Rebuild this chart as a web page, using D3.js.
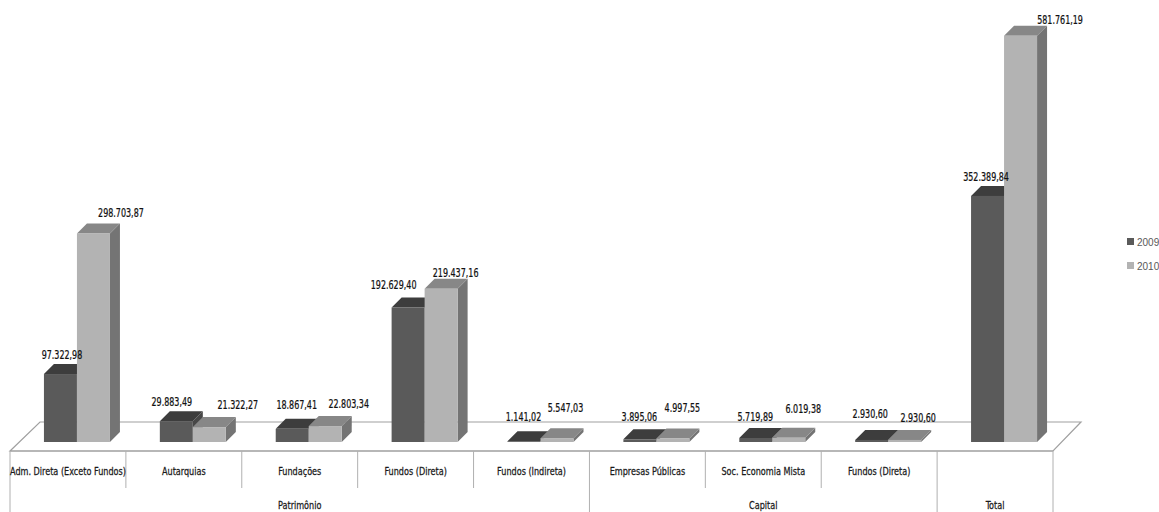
<!DOCTYPE html>
<html>
<head>
<meta charset="utf-8">
<script src="https://cdn.jsdelivr.net/npm/d3@7"></script>
<style>
  html, body { margin: 0; padding: 0; background: #fff; }
  svg { display: block; }
  text { font-family: 'Liberation Sans Narrow', 'DejaVu Sans Condensed', 'Arial Narrow', sans-serif; }
</style>
</head>
<body>
<svg id="chart" width="1159" height="512"></svg>
<script>
// ---------------- DATA ----------------
const categories = [
  "Adm. Direta (Exceto Fundos)", "Autarquias", "Fundações", "Fundos (Direta)", "Fundos (Indireta)",
  "Empresas Públicas", "Soc. Economia Mista", "Fundos (Direta)", "Total"
];
const groups = ["Patrimônio", "Capital", "Total"];
const groupSizes = [5, 3, 1];
const seriesNames = ["2009", "2010"];
const values2009 = [97322.98, 29883.49, 18867.41, 192629.40, 1141.02, 3895.06, 5719.89, 2930.60, 352389.84];
const values2010 = [298703.87, 21322.27, 22803.34, 219437.16, 5547.03, 4997.55, 6019.38, 2930.60, 581761.19];

// label placement tweaks (px, relative to the default label position)
const labelShift2009 = [[2,2],[-4,2],[5,-3],[-14,-1],[0,-3],[0,-1],[0,0],[-1,-5],[-1,2]];
const labelShift2010 = [[11,3],[12,1],[7,1],[-2,7],[-8,-7],[-7,-8],[-2,-6],[-3,1],[23,7]];

// ---------------- LAYOUT ----------------
const svg = d3.select("#chart");
const colors = {
  "2009": { front: "#5a5a5a", top: "#3d3d3d", side: "#474747" },
  "2010": { front: "#b3b3b3", top: "#878787", side: "#747474" }
};
const floor = { front: 451, back: 422, left: 10, right: 1053, dx: 30 };
const barBase = 442;
const barW = 33, depthX = 10, depthY = -10, pairShift = 9;
const condense = 0.74;

const x = d3.scaleBand().domain(d3.range(categories.length)).range([floor.left, floor.right]).padding(0);
const xs = d3.scaleBand().domain(seriesNames).range([0, 2 * barW]).padding(0);
const y = d3.scaleLinear().domain([0, 600000]).range([barBase, 23]);

const ptBR = d3.formatLocale({ decimal: ",", thousands: ".", grouping: [3], currency: ["R$", ""] });
const fmt = ptBR.format(",.2f");

function ctext(g, px, py, str, size, fill, sx) {
  return g.append("text")
    .attr("transform", `translate(${px},${py}) scale(${sx},1)`)
    .attr("text-anchor", "middle").attr("font-size", size).attr("fill", fill)
    .attr("stroke", fill).attr("stroke-width", 0.25).text(str);
}

// floor
const lineCol = "#a0a0a0";
svg.append("path")
  .attr("d", `M${floor.left},${floor.front} L${floor.left + floor.dx},${floor.back} L${floor.right + floor.dx - 2},${floor.back} L${floor.right},${floor.front} Z`)
  .attr("fill", "#ffffff").attr("stroke", lineCol).attr("stroke-width", 1.2);

// table (category axis)
const axisG = svg.append("g");
axisG.append("line").attr("x1", floor.left).attr("x2", floor.right).attr("y1", floor.front).attr("y2", floor.front)
  .attr("stroke", lineCol).attr("stroke-width", 1.2);
let groupStarts = [0];
groupSizes.forEach((s, i) => groupStarts.push(groupStarts[i] + s));
d3.range(categories.length + 1).forEach(i => {
  const xx = i < categories.length ? x(i) : floor.right;
  const isGroupEdge = groupStarts.includes(i);
  axisG.append("line").attr("x1", xx).attr("x2", xx).attr("y1", floor.front).attr("y2", isGroupEdge ? 512 : 488)
    .attr("stroke", "#b0b0b0").attr("stroke-width", 1);
});
categories.forEach((c, i) => {
  if (i === categories.length - 1) return; // the Total column shows only its group label
  ctext(axisG, x(i) + x.bandwidth() / 2, 475, c, 11, "#1a1a1a", 0.82);
});
groups.forEach((g, gi) => {
  const x0 = x(groupStarts[gi]);
  const x1 = groupStarts[gi + 1] < categories.length ? x(groupStarts[gi + 1]) : floor.right;
  ctext(axisG, (x0 + x1) / 2, 509, g, 11, "#1a1a1a", 0.82);
});

// bars
const barsG = svg.append("g");
function drawBar(cx, v, s) {
  const x0 = cx, x1 = cx + barW;
  const yt = y(v), yb = y(0);
  const c = colors[s];
  const g = barsG.append("g");
  g.append("path").attr("d", `M${x1},${yb} L${x1 + depthX},${yb + depthY} L${x1 + depthX},${yt + depthY} L${x1},${yt} Z`).attr("fill", c.side);
  g.append("path").attr("d", `M${x0},${yt} L${x1},${yt} L${x1 + depthX},${yt + depthY} L${x0 + depthX},${yt + depthY} Z`).attr("fill", c.top);
  g.append("rect").attr("x", x0).attr("y", yt).attr("width", barW).attr("height", Math.max(0.8, yb - yt)).attr("fill", c.front);
}
const series = { "2009": values2009, "2010": values2010 };
categories.forEach((c, i) => {
  const base = x(i) + x.bandwidth() / 2 + pairShift - barW;
  seriesNames.forEach(s => drawBar(base + xs(s), series[s][i], s));
});

// value labels
const labG = svg.append("g");
categories.forEach((c, i) => {
  const center = x(i) + x.bandwidth() / 2;
  const sh9 = labelShift2009[i], sh10 = labelShift2010[i];
  ctext(labG, center - 8 + sh9[0], y(values2009[i]) - 21 + 4 + sh9[1], fmt(values2009[i]), 12, "#111", condense);
  ctext(labG, center + 42 + sh10[0], y(values2010[i]) - 23 + 4 + sh10[1], fmt(values2010[i]), 12, "#111", condense);
});

// legend
const leg = svg.append("g").attr("transform", "translate(1127,238)");
seriesNames.forEach((s, i) => {
  const g = leg.append("g").attr("transform", `translate(0,${i * 24})`);
  g.append("rect").attr("x", 0).attr("y", 0).attr("width", 7).attr("height", 7).attr("fill", colors[s].front);
  g.append("text").attr("x", 10).attr("y", 7.5).attr("font-size", 10).attr("fill", "#595959")
    .style("font-family", "'Liberation Sans', Arial, sans-serif").text(s);
});
</script>
</body>
</html>
